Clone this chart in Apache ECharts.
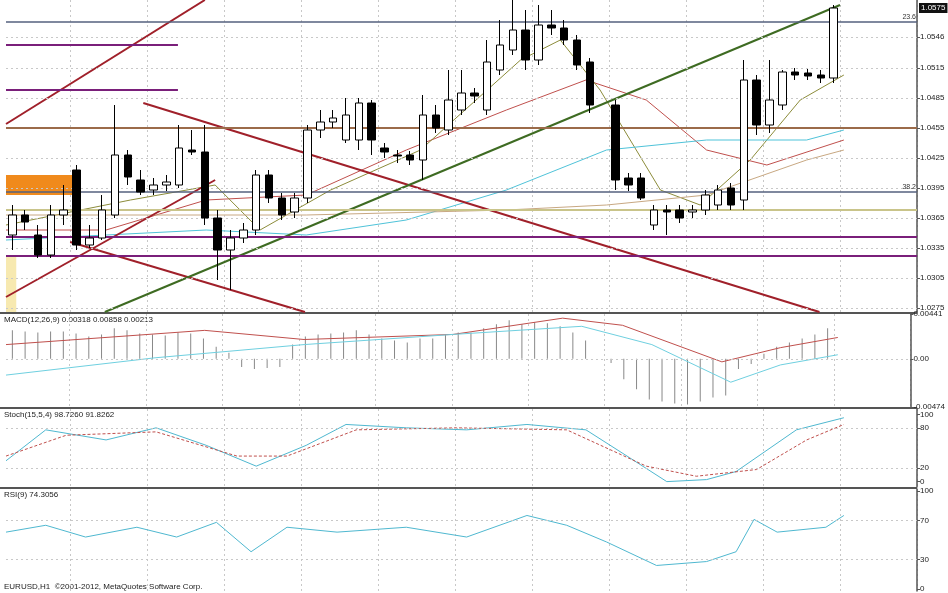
<!DOCTYPE html>
<html><head><meta charset="utf-8">
<script src="https://cdn.jsdelivr.net/npm/echarts@6/dist/echarts.min.js"></script>
<style>html,body{margin:0;padding:0;background:#fff}#c{width:948px;height:593px}</style>
</head><body><div id="c"></div>
<script>
// candles: [open, close, low, high]; '-' = gap
const candles = [
[1.0348,1.0368,1.0333,1.0378],[1.0368,1.0361,1.0353,1.0373],[1.0348,1.0328,1.0325,1.0358],[1.0328,1.0368,1.0325,1.0378],
[1.0368,1.0373,1.0358,1.0398],[1.0413,1.0338,1.0333,1.0418],[1.0338,1.0345,1.0335,1.0358],[1.0345,1.0373,1.0343,1.0388],
[1.0368,1.0428,1.0365,1.0478],[1.0428,1.0406,1.0398,1.0433],[1.0403,1.0391,1.0388,1.0413],[1.0393,1.0398,1.0388,1.0405],
[1.0398,1.0401,1.0392,1.0408],[1.0398,1.0435,1.0395,1.0458],[1.0433,1.0431,1.0428,1.0453],[1.0431,1.0365,1.0358,1.0458],
[1.0365,1.0333,1.0303,1.0373],[1.0333,1.0345,1.0293,1.0353],[1.0345,1.0353,1.0340,1.0360],[1.0353,1.0408,1.0348,1.0413],
[1.0408,1.0385,1.0380,1.0413],[1.0385,1.0368,1.0363,1.0390],[1.0371,1.0385,1.0365,1.0390],[1.0385,1.0453,1.0380,1.0458],
[1.0453,1.0461,1.0445,1.0473],[1.0461,1.0465,1.0455,1.0473],[1.0443,1.0468,1.0440,1.0485],[1.0443,1.0480,1.0433,1.0485],
[1.0480,1.0443,1.0428,1.0483],[1.0435,1.0431,1.0425,1.0440],[1.0428,1.0427,1.0420,1.0433],[1.0428,1.0423,1.0418,1.0432],
[1.0423,1.0468,1.0403,1.0488],[1.0468,1.0455,1.0450,1.0478],[1.0453,1.0483,1.0448,1.0513],[1.0473,1.0490,1.0468,1.0513],
[1.0490,1.0487,1.0480,1.0495],[1.0473,1.0521,1.0468,1.0543],[1.0513,1.0538,1.0508,1.0563],[1.0533,1.0553,1.0528,1.0583],
[1.0553,1.0523,1.0513,1.0573],[1.0523,1.0558,1.0518,1.0578],[1.0558,1.0555,1.0548,1.0573],[1.0555,1.0543,1.0538,1.0563],
[1.0543,1.0518,1.0513,1.0548],[1.0521,1.0478,1.0470,1.0525],'-',[1.0478,1.0403,1.0393,1.0483],
[1.0405,1.0398,1.0392,1.0410],[1.0405,1.0385,1.0383,1.0410],[1.0358,1.0373,1.0353,1.0378],[1.0373,1.0371,1.0348,1.0378],
[1.0373,1.0365,1.0360,1.0378],[1.0371,1.0373,1.0365,1.0378],[1.0373,1.0388,1.0368,1.0393],[1.0378,1.0393,1.0373,1.0398],
[1.0395,1.0378,1.0373,1.0400],[1.0383,1.0503,1.0373,1.0523],[1.0503,1.0458,1.0448,1.0508],[1.0458,1.0483,1.0450,1.0523],
[1.0478,1.0511,1.0473,1.0513],[1.0511,1.0508,1.0503,1.0515],[1.0510,1.0507,1.0503,1.0514],[1.0508,1.0505,1.0500,1.0513],
[1.0505,1.0575,1.0500,1.0578]
];
const slots = 71;
const categories = Array.from({length: slots}, (_, i) => String(i));
const priceTicks = [1.0546,1.0515,1.0485,1.0455,1.0425,1.0395,1.0365,1.0335,1.0305,1.0275];
// moving averages as [barIndex, price]
const maRed = [[-0.5,1.0353],[7.3,1.0353],[15.1,1.0383],[22.9,1.0388],[30.7,1.0433],[38.5,1.0473],[44.7,1.0503],[49.4,1.0483],[54.1,1.0433],[58.8,1.0418],[64.8,1.0443]];
const maOlive = [[-0.5,1.0358],[9.2,1.0383],[15.8,1.0398],[19.3,1.0353],[24.8,1.0393],[31.8,1.0433],[39.6,1.0523],[42.7,1.0543],[45.8,1.0493],[50.5,1.0393],[53.6,1.0378],[57.5,1.0423],[61.4,1.0483],[64.8,1.0508]];
const maCyan = [[-0.5,1.0343],[15.1,1.0353],[22.9,1.0348],[30.7,1.0363],[38.5,1.0393],[46.3,1.0433],[54.1,1.0443],[61.9,1.0443],[64.8,1.0453]];
const maTan = [[-0.5,1.0368],[22.9,1.0368],[38.5,1.0373],[46.3,1.0378],[54.1,1.0388],[61.9,1.0423],[64.8,1.0433]];
// trend lines [[x1,p1],[x2,p2]]
const redLines = [[[-0.5,1.0459],[15.0,1.0583]],[[10.2,1.0480],[62.9,1.0271]],[[4.5,1.0341],[22.8,1.0271]],[[-0.5,1.0286],[15.8,1.0403]]];
const greenLine = [[7.2,1.0271],[64.5,1.0578]];
const purpleShort = [1.0538,1.0493];
const purpleLevels = [1.0346,1.0327];
const fibLevels = [{v:1.0561,n:'23.6'},{v:1.0391,n:'38.2'}];
const brownLevel = 1.0455, oliveLevel = 1.0373, lastPrice = 1.0575;
// MACD
const macdHist = [0.0028,0.0027,0.0026,0.0027,0.0027,0.0025,0.0022,0.0024,0.0030,0.0028,0.0025,0.0024,0.0023,0.0026,0.0025,0.0020,0.0012,0.0006,-0.0008,-0.0010,-0.0009,-0.0008,0.0014,0.0022,0.0024,0.0025,0.0026,0.0028,0.0024,0.0020,0.0018,0.0016,0.0020,0.0020,0.0024,0.0026,0.0026,0.0030,0.0034,0.0038,0.0034,0.0036,0.0035,0.0032,0.0026,0.0018,'-',-0.0004,-0.0020,-0.0030,-0.0040,-0.0042,-0.0044,-0.0045,-0.0042,-0.0038,-0.0036,-0.0010,-0.0005,0.0005,0.0012,0.0016,0.0020,0.0024,0.0030];
const macdSignal = [[-0.5,0.0014],[15.1,0.0028],[22.9,0.0019],[34.6,0.0024],[43.2,0.0040],[47.9,0.0033],[55.7,-0.0003],[60.3,0.0011],[64.8,0.0021]];
const macdMain = [[-0.5,-0.0016],[11.2,0.0001],[22.9,0.0014],[34.6,0.0024],[44.7,0.0032],[50.2,0.0014],[56.4,-0.0023],[60.3,-0.0006],[64.8,0.0004]];
const macdTicks = [0.00441,0,-0.00474];
// Stochastic
const stochMain = [[-0.5,31],[2.6,77],[7.3,62],[11.2,80],[15.1,54],[19.0,23],[22.9,54],[26.0,85],[30.7,80],[35.4,77],[40.1,85],[44.7,77],[47.9,38],[51.0,0],[54.1,3],[56.4,15],[61.1,77],[64.8,95]];
const stochSignal = [[-0.5,38],[4.2,69],[11.2,74],[17.5,38],[21.4,38],[26.8,77],[34.6,80],[43.2,77],[49.4,23],[53.3,8],[58.0,18],[61.9,62],[64.8,85]];
const stochTicks = [100,80,20,0];
// RSI
const rsi = [[-0.5,58],[2.6,65],[5.7,53],[9.7,63],[12.8,53],[15.9,68],[18.6,38],[21.4,63],[25.3,58],[30.7,63],[35.4,53],[40.1,75],[43.2,65],[46.3,48],[50.2,24],[54.1,28],[56.4,38],[57.8,71],[59.6,58],[63.4,63],[64.8,75]];
const rsiTicks = [100,70,30,0];

const chart = echarts.init(document.getElementById('c'));
const L = 6, R = 31;
const grids = [
  {left:L,right:R,top:0,height:312},
  {left:L,right:R,top:314,height:93},
  {left:L,right:R,top:409,height:78},
  {left:L,right:R,top:489,height:102}
];
const lab = {fontSize:8,color:'#222',fontFamily:'Liberation Sans',margin:3};
const xAxes = [], yAxes = [];
grids.forEach((g,i)=>{
  xAxes.push({type:'category',data:categories,gridIndex:i,boundaryGap:true,axisLine:{show:false},axisTick:{show:false},axisLabel:{show:false},
    splitLine:{show:true,interval:(idx)=>idx%6===5,lineStyle:{color:'#c8c8c8',type:[2,3]}}});
});
grids.forEach((g,i)=>{
  xAxes.push({type:'value',gridIndex:i,min:-0.5,max:slots-0.5,show:false});
});
function yA(i,min,max,ticks,fmt){
  return {type:'value',gridIndex:i,position:'right',min,max,
    axisLine:{show:true,onZero:false,lineStyle:{color:'#555',width:1.5}},
    axisTick:{show:true,customValues:ticks,length:3,lineStyle:{color:'#555'}},
    axisLabel:Object.assign({customValues:ticks,formatter:fmt},lab),
    splitLine:{show:false}};
}
yAxes.push(yA(0,1.0271,1.0583,priceTicks,v=>v.toFixed(4)));
yAxes.push(yA(1,-0.00474,0.00441,macdTicks,v=>v===0?'0.00':v.toFixed(5)));
yAxes.push(yA(2,-8,108,stochTicks,v=>String(v)));
yAxes.push(yA(3,-2,102,rsiTicks,v=>String(v)));

const hl = (v,color,w,extra)=>Object.assign({yAxis:v,lineStyle:{color,width:w,type:'solid'}},extra||{});
const line = (data,xi,yi,color,w,dash)=>({type:'line',xAxisIndex:xi,yAxisIndex:yi,data,showSymbol:false,silent:true,
  lineStyle:{color,width:w||1,type:dash||'solid'},z:3});
const dottedMarks = (ticks)=>({symbol:'none',silent:true,precision:6,label:{show:false},
  data:ticks.map(t=>({yAxis:t,lineStyle:{color:'#c8c8c8',type:[2,3],width:1}}))});

const series = [
  {type:'line',xAxisIndex:4,yAxisIndex:0,data:[],silent:true,z:2,
    markLine:{symbol:'none',silent:true,animation:false,precision:4,data:[
      ...priceTicks.map(t=>({yAxis:t,label:{show:false},lineStyle:{color:'#c8c8c8',type:[2,3],width:1}})),
      hl(brownLevel,'#9b6b4a',2,{label:{show:false}}),
      hl(oliveLevel,'#c9c48a',2,{label:{show:false}}),
      ...purpleLevels.map(v=>hl(v,'#7a1f7a',2,{label:{show:false}})),
      ...fibLevels.map(f=>hl(f.v,'#55607e',1.5,{label:{show:true,position:'insideEndTop',formatter:f.n,fontSize:7,color:'#333',distance:1}})),
      {yAxis:lastPrice,lineStyle:{color:'rgba(0,0,0,0)',width:0},label:{show:true,position:'end',formatter:lastPrice.toFixed(4),backgroundColor:'#111',color:'#fff',fontSize:8,padding:[1,2],distance:2}}
    ]},
    markArea:{silent:true,data:[
      [{coord:[-0.5,1.0408],itemStyle:{color:'#f08a1c'}},{coord:[4.9,1.0388]}],
      [{coord:[-0.5,1.0328],itemStyle:{color:'#f7e9b0'}},{coord:[0.3,1.0271]}]
    ]}},
  {type:'candlestick',xAxisIndex:0,yAxisIndex:0,data:candles,barWidth:8,z:5,
    itemStyle:{color:'#ffffff',color0:'#000000',borderColor:'#000',borderColor0:'#000',borderWidth:1}},
  line(maRed,4,0,'#c0504d',1),
  line(maOlive,4,0,'#8c8c3a',1),
  line(maCyan,4,0,'#4fc3d9',1),
  line(maTan,4,0,'#c8a882',1),
  ...redLines.map(d=>line(d,4,0,'#a0202a',2)),
  line(greenLine,4,0,'#3e6b22',2),
  ...purpleShort.map(v=>line([[-0.5,v],[12.9,v]],4,0,'#7a1f7a',2)),
  {type:'bar',xAxisIndex:1,yAxisIndex:1,data:macdHist,barWidth:1,itemStyle:{color:'#888'},silent:true,
    markLine:dottedMarks([0])},
  line(macdSignal,5,1,'#c0504d',1),
  line(macdMain,5,1,'#6fd0e0',1),
  {type:'line',xAxisIndex:6,yAxisIndex:2,data:[],markLine:dottedMarks([80,20])},
  line(stochMain,6,2,'#4fb8d0',1),
  line(stochSignal,6,2,'#c0504d',1,[3,2]),
  {type:'line',xAxisIndex:7,yAxisIndex:3,data:[],markLine:dottedMarks([70,30])},
  line(rsi,7,3,'#4fb8d0',1)
];

chart.setOption({
  animation:false,backgroundColor:'#fff',
  grid:grids,xAxis:xAxes,yAxis:yAxes,series,
  graphic:[
    {type:'rect',left:0,top:312,shape:{width:917,height:2},style:{fill:'#555'}},
    {type:'rect',left:0,top:407,shape:{width:917,height:2},style:{fill:'#555'}},
    {type:'rect',left:0,top:487,shape:{width:917,height:2},style:{fill:'#555'}},
    {type:'text',left:4,top:316,style:{text:'MACD(12,26,9) 0.00318 0.00858 0.00213',fontSize:8,fill:'#222',fontFamily:'Liberation Sans'}},
    {type:'text',left:4,top:411,style:{text:'Stoch(15,5,4) 98.7260 91.8262',fontSize:8,fill:'#222',fontFamily:'Liberation Sans'}},
    {type:'text',left:4,top:491,style:{text:'RSI(9) 74.3056',fontSize:8,fill:'#222',fontFamily:'Liberation Sans'}},
    {type:'text',left:4,top:583,style:{text:'EURUSD,H1  ©2001-2012, MetaQuotes Software Corp.',fontSize:8,fill:'#222',fontFamily:'Liberation Sans'}}
  ]
});
</script></body></html>
